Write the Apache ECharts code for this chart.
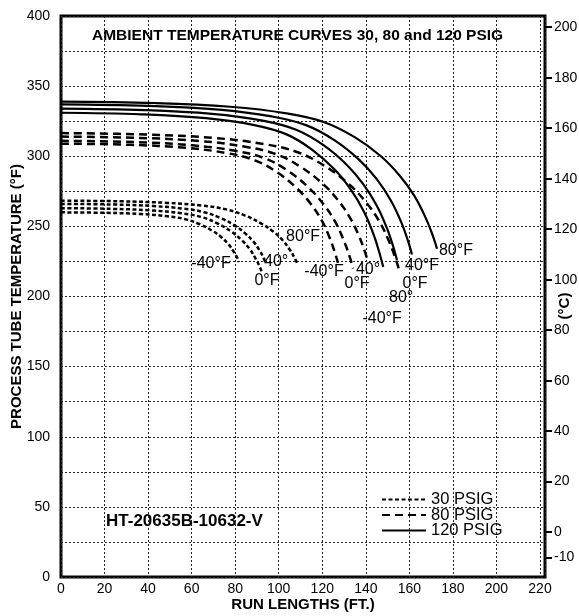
<!DOCTYPE html>
<html><head><meta charset="utf-8">
<script src="https://cdn.jsdelivr.net/npm/echarts@6/dist/echarts.min.js"></script>
<style>html,body{margin:0;padding:0;background:#fff}#c{width:579px;height:616px}</style>
</head><body><div id="c"></div>
<script>
const FONT = '"Liberation Sans", Arial, Helvetica, sans-serif';

// ---- DATA (run length ft, process temperature °F) ----
const pressureNames = ['30 PSIG', '80 PSIG', '120 PSIG'];

const psig30_m40 = [[0,260],[20.5,259.65],[36.8,258.8],[49.1,257.2],[57.3,255.0],[63.8,251.5],[69.5,246.9],[73.6,242.3],[76.9,237.3],[79.3,232.0],[81.0,227.4],[81.8,224.6]];
const psig30_0   = [[0,263],[23.1,262.5],[41.5,261.4],[55.4,259.3],[64.6,256.6],[72.0,252.0],[78.5,246.0],[83.1,240],[86.8,233.6],[89.5,226.7],[91.4,220.7],[92.3,217]];
const psig30_40  = [[0,266],[23.5,265.6],[42.3,264.5],[56.4,262.6],[65.8,260.1],[73.3,255.9],[79.9,250.5],[84.6,245],[88.4,239.1],[91.2,232.8],[93.1,227.4],[94,224]];
const psig30_80  = [[0,268.3],[27.1,267.9],[48.8,266.75],[65.0,264.75],[75.9,262.1],[84.6,257.7],[92.1,251.9],[97.6,246.15],[101.9,239.95],[105.1,233.3],[107.3,227.5],[108.4,224]];

const psig80_m40 = [[0,309],[31.8,308.15],[57.2,306.0],[76.3,302.2],[89.0,297.1],[99.2,288.6],[108.1,277.55],[114.5,266.5],[119.6,254.6],[123.4,241.85],[125.9,230.8],[127.2,224]];
const psig80_0   = [[0,311],[33.5,310.1],[60.3,307.8],[80.5,303.7],[93.9,298.3],[104.6,289.2],[114.0,277.3],[120.7,265.5],[126.1,252.8],[130.1,239.1],[132.8,227.3],[134.1,220]];
const psig80_40  = [[0,314],[35.25,313.1],[63.45,310.9],[84.6,306.8],[98.7,301.5],[110.0,292.5],[119.85,280.9],[126.9,269.3],[132.5,256.8],[136.8,243.4],[139.6,231.8],[141,224.6]];
const psig80_80  = [[0,316.5],[38.8,315.5],[69.9,313.1],[93.2,308.7],[108.7,302.85],[121.1,293.1],[132.0,280.4],[139.8,267.75],[146.0,254.1],[150.6,239.5],[153.7,226.8],[155.3,219]];

const psig120_m40 = [[0,331],[37,329.9],[66.6,327.15],[88.8,322.2],[103.6,315.6],[115.4,304.6],[125.8,290.3],[133.2,276],[139.1,260.6],[143.6,244.1],[146.5,229.8],[148,221]];
const psig120_0   = [[0,334],[38.6,332.9],[69.4,330.2],[92.6,325.4],[108.0,318.9],[120.4,308.1],[131.2,294.0],[138.9,280],[145.0,264.9],[149.7,248.7],[152.8,234.6],[154.3,226]];
const psig120_40  = [[0,337],[40.3,335.9],[72.5,333.3],[96.7,328.4],[112.8,322.0],[125.7,311.3],[137.0,297.4],[145.1,283.5],[151.5,268.5],[156.4,252.5],[159.6,238.6],[161.2,230]];
const psig120_80  = [[0,339],[43.2,337.95],[77.7,335.3],[103.6,330.6],[120.9,324.3],[134.7,313.8],[146.8,300.2],[155.4,286.5],[162.3,271.8],[167.5,256.05],[171.0,242.4],[172.7,234]];

// ambient labels: [text, ft, °F]
const curveLabels = [
  ['-40°F', 68.9, 223.2], ['0°F', 94.6, 211], ['40°', 98.8, 224.6], ['80°F', 111.2, 242.4],
  ['-40°F', 120.8, 217.5], ['0°F', 136, 209], ['40°', 141, 219], ['80°', 156.2, 199],
  ['-40°F', 147.5, 184], ['0°F', 162.6, 209], ['40°F', 165.8, 221.7], ['80°F', 181.4, 233]
];

const celsiusTicks = [-10, 0, 20, 40, 60, 80, 100, 120, 140, 160, 180, 200];
const xMin = 0, xMax = 222.3, xStep = 20;
const fMin = 0, fMax = 400, fStep = 25;

// ---- STYLES ----
const styles = {
  '30 PSIG': { type: [4, 2.5], width: 2.5 },
  '80 PSIG': { type: [8, 5], width: 2.5 },
  '120 PSIG': { type: 'solid', width: 2.2 }
};
function lineSeries(name, data) {
  return {
    type: 'line', name: name, data: data, symbol: 'none', smooth: 0.4,
    silent: true, animation: false,
    lineStyle: Object.assign({ color: '#000' }, styles[name]),
    itemStyle: { color: '#000' }
  };
}
const gridLine = { show: true, lineStyle: { color: '#222', width: 1, type: [2, 2] } };
const nameStyle = { fontFamily: FONT, fontSize: 15, fontWeight: 'bold', color: '#000' };

const chart = echarts.init(document.getElementById('c'), null, { renderer: 'canvas' });
chart.setOption({
  animation: false,
  textStyle: { fontFamily: FONT },
  grid: { left: 61, right: 34, top: 16, bottom: 39, containLabel: false, outerBoundsMode: 'none',
          show: true, borderColor: '#000', borderWidth: 3, backgroundColor: 'transparent' },
  title: {
    text: 'AMBIENT TEMPERATURE CURVES 30, 80 and 120 PSIG', left: 87, top: 23,
    textStyle: { fontFamily: FONT, fontSize: 15.5, fontWeight: 'bold', color: '#000' }
  },
  legend: {
    data: pressureNames, orient: 'vertical', left: 376, top: 486, itemWidth: 44, itemHeight: 12, itemGap: -1.5,
    itemStyle: { opacity: 0 },
    textStyle: { fontFamily: FONT, fontSize: 16.5, lineHeight: 15, color: '#000' }, selectedMode: false
  },
  xAxis: {
    type: 'value', min: xMin, max: xMax, interval: xStep,
    name: 'RUN LENGTHS (FT.)', nameLocation: 'middle', nameGap: 20, nameMoveOverlap: false,
    nameTextStyle: nameStyle,
    axisLine: { show: false }, axisTick: { show: false },
    axisLabel: { color: '#000', fontSize: 14, margin: 5, formatter: v => (Math.abs(v % 20) < 1e-6 ? String(v) : '') },
    splitLine: gridLine
  },
  yAxis: [{
    type: 'value', min: fMin, max: fMax, interval: fStep,
    name: 'PROCESS TUBE TEMPERATURE (°F)', nameLocation: 'middle', nameGap: 37, nameRotate: 90, nameMoveOverlap: false,
    nameTextStyle: nameStyle,
    axisLine: { show: false }, axisTick: { show: false },
    axisLabel: { color: '#000', fontSize: 14, margin: 11, formatter: v => (v % 50 === 0 ? String(v) : '') },
    splitLine: gridLine
  }, {
    type: 'value', position: 'right', min: (fMin - 32) * 5 / 9, max: (fMax - 32) * 5 / 9,
    axisLine: { show: false },
    axisTick: { show: true, inside: false, length: 7, lineStyle: { color: '#000', width: 2 }, customValues: celsiusTicks },
    axisLabel: { color: '#000', fontSize: 14, margin: 9, customValues: celsiusTicks },
    splitLine: { show: false }
  }],
  graphic: [{
    type: 'text', left: 106, top: 513,
    style: { text: 'HT-20635B-10632-V', font: 'bold 17px ' + FONT, fill: '#000' }
  }, {
    type: 'text', x: 565, y: 306, rotation: Math.PI / 2,
    style: { text: '(°C)', font: 'bold 15px ' + FONT, fill: '#000', align: 'center', verticalAlign: 'middle' }
  }],
  series: [
    lineSeries('30 PSIG', psig30_m40), lineSeries('30 PSIG', psig30_0), lineSeries('30 PSIG', psig30_40), lineSeries('30 PSIG', psig30_80),
    lineSeries('80 PSIG', psig80_m40), lineSeries('80 PSIG', psig80_0), lineSeries('80 PSIG', psig80_40), lineSeries('80 PSIG', psig80_80),
    lineSeries('120 PSIG', psig120_m40), lineSeries('120 PSIG', psig120_0), lineSeries('120 PSIG', psig120_40), lineSeries('120 PSIG', psig120_80),
    {
      type: 'scatter', name: 'labels', symbolSize: 0, silent: true,
      itemStyle: { opacity: 1, color: '#000' },
      data: curveLabels.map(l => ({ value: [l[1], l[2]], name: l[0] })),
      label: { show: true, position: 'inside', formatter: '{b}', fontFamily: FONT, fontSize: 16, color: '#000',
               textBorderWidth: 0, opacity: 1 }
    }
  ]
});
</script></body></html>
